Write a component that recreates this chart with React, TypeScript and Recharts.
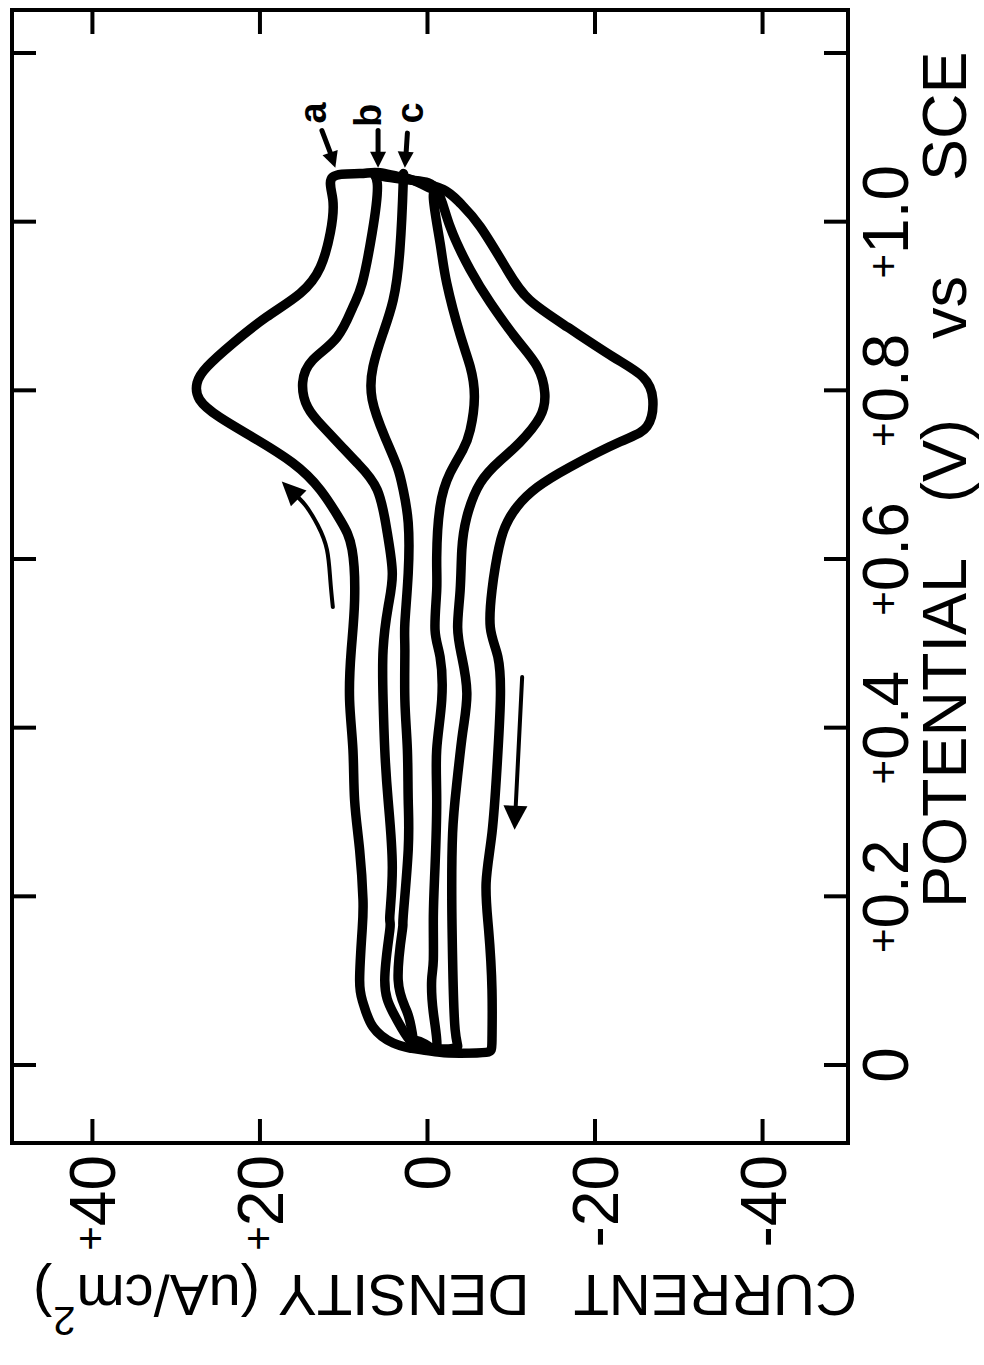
import { ScatterChart, Scatter, XAxis, YAxis } from 'recharts';

// cyclic voltammograms, three loops; each pair is [current density uA/cm2, potential V vs SCE]
// walked up the anodic branch, across the reversal at ~1.05 V, down the cathodic branch and back
const loopA: number[][] = [
  [2.1, 0.020], [4.1, 0.026], [6.5, 0.045], [7.7, 0.074], [8.1, 0.101], [7.8, 0.160], [7.7, 0.196],
  [8.1, 0.255], [8.7, 0.314], [8.9, 0.374], [9.3, 0.433], [9.1, 0.492], [8.7, 0.551], [9.0, 0.611],
  [10.4, 0.646], [12.8, 0.682], [16.1, 0.714], [20.8, 0.744], [24.8, 0.768], [27.2, 0.789], [27.5, 0.809],
  [26.3, 0.828], [23.2, 0.856], [19.2, 0.887], [15.2, 0.915], [12.8, 0.946], [11.6, 0.987], [11.3, 1.026],
  [11.3, 1.053], [8.1, 1.057], [5.7, 1.058], [1.7, 1.049], [-1.9, 1.038], [-3.9, 1.022], [-6.3, 0.994],
  [-9.5, 0.943], [-12.2, 0.907], [-16.7, 0.875], [-22.1, 0.840], [-25.7, 0.816], [-26.9, 0.789],
  [-26.2, 0.757], [-23.0, 0.739], [-17.0, 0.709], [-13.1, 0.685], [-10.7, 0.662], [-9.0, 0.631],
  [-8.1, 0.591], [-7.7, 0.563], [-7.5, 0.519], [-8.4, 0.484], [-8.7, 0.433], [-8.3, 0.353], [-7.7, 0.275],
  [-7.0, 0.216], [-7.3, 0.160], [-7.7, 0.089], [-7.7, 0.030], [-7.0, 0.015], [-3.9, 0.014], [-1.5, 0.015],
  [2.1, 0.020],
];

const loopB: number[][] = [
  [1.5, 0.024], [2.4, 0.033], [4.1, 0.062], [5.1, 0.101], [4.5, 0.160], [4.5, 0.176], [4.2, 0.235],
  [4.7, 0.314], [5.1, 0.374], [5.3, 0.433], [5.3, 0.492], [4.7, 0.543], [4.2, 0.583], [4.8, 0.631],
  [6.0, 0.682], [8.4, 0.714], [10.4, 0.735], [12.5, 0.757], [14.3, 0.780], [14.9, 0.809], [13.7, 0.836],
  [10.8, 0.863], [8.9, 0.899], [7.8, 0.927], [6.6, 0.987], [6.0, 1.046], [6.0, 1.055], [1.7, 1.049],
  [-1.1, 1.038], [-2.7, 0.994], [-5.1, 0.943], [-7.5, 0.904], [-10.7, 0.860], [-13.1, 0.828],
  [-14.0, 0.797], [-13.4, 0.768], [-11.0, 0.738], [-8.7, 0.717], [-6.3, 0.690], [-4.7, 0.650],
  [-4.1, 0.611], [-3.9, 0.563], [-3.6, 0.519], [-4.1, 0.484], [-4.7, 0.441], [-4.2, 0.394], [-3.5, 0.334],
  [-3.0, 0.275], [-2.9, 0.196], [-3.0, 0.125], [-3.3, 0.042], [-3.5, 0.021], [-1.5, 0.019], [1.5, 0.024],
];

const loopC: number[][] = [
  [1.7, 0.030], [2.4, 0.062], [3.5, 0.101], [3.0, 0.160], [2.9, 0.176], [2.3, 0.255], [2.3, 0.314],
  [2.4, 0.374], [2.7, 0.433], [2.7, 0.492], [2.7, 0.524], [2.3, 0.583], [2.3, 0.643], [2.9, 0.682],
  [3.6, 0.709], [5.1, 0.745], [6.6, 0.789], [6.5, 0.828], [5.3, 0.868], [4.1, 0.907], [3.3, 0.966],
  [2.9, 1.046], [2.8, 1.054], [1.7, 1.049], [-0.7, 1.038], [-0.7, 1.029], [-1.5, 0.975], [-2.3, 0.927],
  [-3.9, 0.866], [-5.1, 0.828], [-5.6, 0.792], [-5.1, 0.753], [-4.2, 0.729], [-2.7, 0.702], [-1.5, 0.662],
  [-1.1, 0.602], [-1.1, 0.563], [-0.9, 0.516], [-1.5, 0.484], [-1.7, 0.433], [-1.1, 0.374], [-1.1, 0.314],
  [-0.9, 0.235], [-0.7, 0.176], [-0.7, 0.125], [-0.5, 0.101], [-0.7, 0.062], [-1.1, 0.021], [0.3, 0.025],
  [1.7, 0.030],
];

// curve tags and the short arrows pointing at the top of each loop
const curveTags = ['a', 'b', 'c'];
const tagSpots: number[][] = [[13.7, 1.129], [7.1, 1.126], [2.1, 1.129]];
const tagShafts: number[][][] = [
  [[12.6, 1.108], [11.3, 1.074]],
  [[5.9, 1.108], [5.9, 1.074]],
  [[2.4, 1.105], [2.6, 1.074]],
];
const tagTips: number[][] = [[11.0, 1.064], [5.9, 1.064], [2.7, 1.064]];

// sweep direction arrows
const upSweep: number[][] = [[11.3, 0.543], [11.6, 0.575], [12.0, 0.611], [13.1, 0.640], [14.6, 0.664], [16.1, 0.679]];
const upSweepTip: number[][] = [[17.4, 0.692]];
const downSweep: number[][] = [[-11.3, 0.460], [-10.5, 0.300]];
const downSweepTip: number[][] = [[-10.4, 0.279]];

const currentTicks = [-40, -20, 0, 20, 40];
const currentLabels = ['-40', '-20', '0', '+20', '+40'];
const potentialTicks = [0, 0.2, 0.4, 0.6, 0.8, 1.0, 1.2];
const potentialLabels = ['0', '+0.2', '+0.4', '+0.6', '+0.8', '+1.0', ''];

const FONT = "'Liberation Sans', Arial, sans-serif";
const INK = '#000';
const TICK_LEN = 24;

const pts = (pairs: number[][]) => pairs.map(([i, e]) => ({ i, e }));

const noDot = () => <g />;

const arrowHead = (angle: number, len: number, half: number) => (props: any) => (
  <polygon
    points={`0,0 ${-len},${-half} ${-len},${half}`}
    transform={`translate(${props.cx},${props.cy}) rotate(${angle})`}
    fill={INK}
  />
);

const tagShape = (props: any) => (
  <text
    transform={`translate(${props.cx},${props.cy}) rotate(-90)`}
    textAnchor="middle"
    dominantBaseline="central"
    fontSize={38}
    fontWeight="bold"
    fontFamily={FONT}
    fill={INK}
  >
    {props.payload.tag}
  </text>
);

// small plus sign lifted to the middle of the digits
const splitSign = (s: string) =>
  s.startsWith('+') ? (
    <>
      <tspan fontSize={42} dy={-10}>+</tspan>
      <tspan dy={10}>{s.slice(1)}</tspan>
    </>
  ) : (
    s
  );

const BottomTick = (props: any) => {
  const { x, y, payload } = props;
  const label = currentLabels[currentTicks.indexOf(payload.value)] ?? '';
  return (
    <g>
      <line x1={x} y1={y} x2={x} y2={y - TICK_LEN} stroke={INK} strokeWidth={4} />
      <text
        transform={`translate(${x + 23},${y + 12}) rotate(-90)`}
        textAnchor="end"
        fontSize={64}
        fontFamily={FONT}
        fill={INK}
      >
        {splitSign(label)}
      </text>
    </g>
  );
};

const TopTick = (props: any) => (
  <line x1={props.x} y1={props.y} x2={props.x} y2={props.y + TICK_LEN} stroke={INK} strokeWidth={4} />
);

const LeftTick = (props: any) => (
  <line x1={props.x} y1={props.y} x2={props.x + TICK_LEN} y2={props.y} stroke={INK} strokeWidth={4} />
);

const RightTick = (props: any) => {
  const { x, y, payload } = props;
  const idx = potentialTicks.findIndex((t) => Math.abs(t - payload.value) < 1e-6);
  const label = idx >= 0 ? potentialLabels[idx] : '';
  return (
    <g>
      <line x1={x} y1={y} x2={x - TICK_LEN} y2={y} stroke={INK} strokeWidth={4} />
      {label && (
        <text
          transform={`translate(${x + 60},${y}) rotate(-90)`}
          textAnchor="middle"
          fontSize={64}
          fontFamily={FONT}
          fill={INK}
        >
          {splitSign(label)}
        </text>
      )}
    </g>
  );
};

const CurrentTitle = () => (
  <text transform="translate(857,1275) rotate(180)" fontSize={58} fontFamily={FONT} fill={INK}>
    <tspan>CURRENT</tspan>
    <tspan dx={44}>DENSITY</tspan>
    <tspan dx={18}>(uA/cm</tspan>
    <tspan dx={1} dy={-32} fontSize={40}>2</tspan>
    <tspan dx={1} dy={32}>)</tspan>
  </text>
);

const PotentialTitle = () => (
  <text transform="translate(966,908) rotate(-90)" fontSize={63} fontFamily={FONT} fill={INK}>
    <tspan>POTENTIAL</tspan>
    <tspan dx={55}>(V)</tspan>
    <tspan dx={80}>vs</tspan>
    <tspan dx={95}>SCE</tspan>
  </text>
);

const loopLine = { stroke: INK, strokeWidth: 9.5, strokeLinejoin: 'round', strokeLinecap: 'round' };
const thinLine = { stroke: INK, strokeWidth: 4, strokeLinecap: 'round' };
const frame = { stroke: INK, strokeWidth: 4, strokeLinecap: 'square' };

const CURRENT_DOMAIN = [-50.2, 49.6];
const POTENTIAL_DOMAIN = [-0.0925, 1.251];

export default function App() {
  const tags = curveTags.map((tag, k) => ({ i: tagSpots[k][0], e: tagSpots[k][1], tag }));

  return (
    <div style={{ position: 'absolute', left: 0, top: 0, width: 984, height: 1365, background: '#fff' }}>
      <ScatterChart width={984} height={1365} margin={{ top: 0, right: 0, bottom: 0, left: 0 }}>
        <XAxis
          xAxisId="cur"
          dataKey="i"
          type="number"
          domain={CURRENT_DOMAIN}
          reversed
          orientation="bottom"
          height={222}
          ticks={currentTicks}
          interval={0}
          tickSize={0}
          tickMargin={0}
          tickLine={false}
          axisLine={frame}
          tick={<BottomTick />}
          label={CurrentTitle}
        />
        <XAxis
          xAxisId="curTop"
          dataKey="i"
          type="number"
          domain={CURRENT_DOMAIN}
          reversed
          orientation="top"
          height={10}
          ticks={currentTicks}
          interval={0}
          tickSize={0}
          tickMargin={0}
          tickLine={false}
          axisLine={frame}
          tick={<TopTick />}
        />
        <YAxis
          yAxisId="potL"
          dataKey="e"
          type="number"
          domain={POTENTIAL_DOMAIN}
          orientation="left"
          width={12}
          ticks={potentialTicks}
          interval={0}
          tickSize={0}
          tickMargin={0}
          tickLine={false}
          axisLine={frame}
          tick={<LeftTick />}
        />
        <YAxis
          yAxisId="potR"
          dataKey="e"
          type="number"
          domain={POTENTIAL_DOMAIN}
          orientation="right"
          width={136}
          ticks={potentialTicks}
          interval={0}
          tickSize={0}
          tickMargin={0}
          tickLine={false}
          axisLine={frame}
          tick={<RightTick />}
          label={PotentialTitle}
        />

        {[loopA, loopB, loopC].map((loop, k) => (
          <Scatter
            key={`loop-${k}`}
            xAxisId="cur"
            yAxisId="potL"
            data={pts(loop)}
            fill={INK}
            line={loopLine}
            lineJointType="natural"
            shape={noDot}
            isAnimationActive={false}
          />
        ))}

        {tagShafts.map((shaft, k) => (
          <Scatter
            key={`shaft-${k}`}
            xAxisId="curTop"
            yAxisId="potR"
            data={pts(shaft)}
            fill={INK}
            line={{ ...thinLine, strokeWidth: 5 }}
            shape={noDot}
            isAnimationActive={false}
          />
        ))}
        <Scatter xAxisId="curTop" yAxisId="potR" data={pts([tagTips[0]])} shape={arrowHead(71, 16, 8)} isAnimationActive={false} />
        <Scatter xAxisId="curTop" yAxisId="potR" data={pts([tagTips[1]])} shape={arrowHead(90, 16, 8)} isAnimationActive={false} />
        <Scatter xAxisId="curTop" yAxisId="potR" data={pts([tagTips[2]])} shape={arrowHead(93, 16, 8)} isAnimationActive={false} />
        <Scatter xAxisId="curTop" yAxisId="potR" data={tags} shape={tagShape} isAnimationActive={false} />

        <Scatter xAxisId="curTop" yAxisId="potR" data={pts(upSweep)} fill={INK} line={thinLine} lineJointType="natural" shape={noDot} isAnimationActive={false} />
        <Scatter xAxisId="curTop" yAxisId="potR" data={pts(upSweepTip)} shape={arrowHead(-135, 24, 11)} isAnimationActive={false} />
        <Scatter xAxisId="curTop" yAxisId="potR" data={pts(downSweep)} fill={INK} line={thinLine} shape={noDot} isAnimationActive={false} />
        <Scatter xAxisId="curTop" yAxisId="potR" data={pts(downSweepTip)} shape={arrowHead(92, 24, 12)} isAnimationActive={false} />
      </ScatterChart>
    </div>
  );
}
